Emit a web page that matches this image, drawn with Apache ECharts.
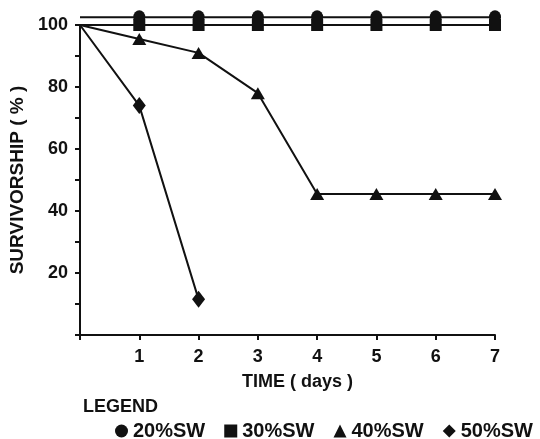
<!DOCTYPE html>
<html><head><meta charset="utf-8">
<script src="https://cdn.jsdelivr.net/npm/echarts@6/dist/echarts.min.js"></script>
<style>html,body{margin:0;padding:0;background:#fff}#c{width:540px;height:439px}</style>
</head><body><div id="c"></div>
<script>
const days = [0, 1, 2, 3, 4, 5, 6, 7];
const sw20 = [102.5, 102.5, 102.5, 102.5, 102.5, 102.5, 102.5, 102.5];
const sw30 = [100, 100, 100, 100, 100, 100, 100, 100];
const sw40 = [100, 95.5, 91, 78, 45.5, 45.5, 45.5, 45.5];
const sw50days = [0, 1, 2];
const sw50 = [100, 74, 11.5];
const seriesNames = ['20%SW', '30%SW', '40%SW', '50%SW'];
const yTicks = [20, 40, 60, 80, 100];
const xTicks = [1, 2, 3, 4, 5, 6, 7];

const FONT = '"Liberation Sans", Arial, sans-serif';
function pts(xs, ys) {
  return xs.map((x, i) => i === 0 ? { value: [x, ys[i]], symbol: 'none' } : [x, ys[i]]);
}
function mk(name, xs, ys, symbol, size) {
  return {
    name, type: 'line', data: pts(xs, ys), symbol, symbolSize: size,
    clip: false, animation: false,
    lineStyle: { color: '#111', width: 2 },
    itemStyle: { color: '#111' }
  };
}
const chart = echarts.init(document.getElementById('c'));
chart.setOption({
  backgroundColor: '#fff',
  animation: false,
  title: { text: 'LEGEND', left: 78, top: 393, textStyle: { fontFamily: FONT, fontSize: 18, fontWeight: 'bold', color: '#111' } },
  legend: {
    left: 110, top: 416, itemGap: 19, itemWidth: 13, itemHeight: 13,
    data: [
      { name: seriesNames[0], icon: 'circle' },
      { name: seriesNames[1], icon: 'rect' },
      { name: seriesNames[2], icon: 'triangle' },
      { name: seriesNames[3], icon: 'diamond' }
    ],
    textStyle: { fontFamily: FONT, fontSize: 20, fontWeight: 'bold', color: '#111' }
  },
  grid: { left: 75, right: 45, top: 25, bottom: 104 },
  xAxis: {
    type: 'value', min: 0, max: 7, interval: 1,
    name: 'TIME ( days )', nameLocation: 'middle', nameGap: 38,
    nameTextStyle: { fontFamily: FONT, fontSize: 18, fontWeight: 'bold', color: '#111', padding: [0, 0, 0, 20] },
    axisLine: { lineStyle: { color: '#111', width: 2 } },
    axisTick: { show: true, length: 5, lineStyle: { color: '#111', width: 2 } },
    axisLabel: { margin: 13, fontFamily: FONT, fontSize: 18, fontWeight: 'bold', color: '#111',
      formatter: v => xTicks.includes(v) ? String(v) : '' },
    splitLine: { show: false }
  },
  yAxis: {
    type: 'value', min: 0, max: 100, interval: 20,
    name: 'SURVIVORSHIP ( % )', nameLocation: 'middle', nameGap: 53,
    nameTextStyle: { fontFamily: FONT, fontSize: 19, fontWeight: 'bold', color: '#111' },
    axisLine: { show: true, lineStyle: { color: '#111', width: 2 } },
    axisTick: { show: true, length: 5, lineStyle: { color: '#111', width: 2 } },
    minorTick: { show: true, splitNumber: 2, length: 5, lineStyle: { color: '#111', width: 2 } },
    axisLabel: { margin: 12, fontFamily: FONT, fontSize: 18, fontWeight: 'bold', color: '#111',
      formatter: v => yTicks.includes(v) ? String(v) : '' },
    splitLine: { show: false }
  },
  series: [
    mk(seriesNames[0], days, sw20, 'circle', [12, 14]),
    mk(seriesNames[1], days, sw30, 'rect', 12),
    mk(seriesNames[2], days, sw40, 'triangle', [14, 12]),
    mk(seriesNames[3], sw50days, sw50, 'diamond', [13, 17])
  ]
});
</script></body></html>
